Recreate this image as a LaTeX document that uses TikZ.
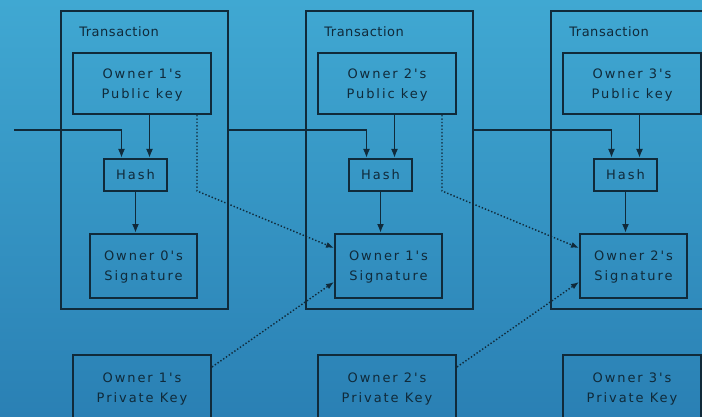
\documentclass[tikz,border=0pt]{standalone}
\usepackage{fontspec}
\usepackage{tikz}
\usetikzlibrary{arrows.meta}
\newfontfamily\boxfont[LetterSpace=15]{DejaVu Sans}
\newfontfamily\labelfont[LetterSpace=4]{DejaVu Sans}
\definecolor{bgtop}{RGB}{64,168,210}
\definecolor{bgbottom}{RGB}{42,128,180}
\definecolor{ink}{RGB}{16,42,58}

\begin{document}
\begin{tikzpicture}[x=1pt,y=-1pt,
	line width=2pt, draw=ink, text=ink,
	txbox/.style={draw,rectangle,minimum width=167pt,minimum height=298pt},
	keybox/.style={draw,rectangle,align=center,minimum width=138pt,minimum height=61pt,
		text depth=0pt,font=\boxfont\fontsize{13}{20}\selectfont},
	hashbox/.style={draw,rectangle,minimum width=63pt,minimum height=32pt,
		font=\boxfont\fontsize{13}{20}\selectfont},
	sigbox/.style={draw,rectangle,align=center,minimum width=107pt,minimum height=64pt,
		text depth=0pt,font=\boxfont\fontsize{13}{20}\selectfont},
	arr/.style={ink,line width=1.8pt,-{Latex[length=9pt,width=7pt]}},
	link/.style={ink,line width=1.4pt,dotted,-{Latex[length=8pt,width=6pt]}}]
	\useasboundingbox (0,0) rectangle (702,417);
	\clip (0,0) rectangle (702,417);
	\shade[top color=bgtop,bottom color=bgbottom] (0,0) rectangle (702,417);

	\foreach \i/\j [evaluate=\i as \dx using (\i-1)*245] in {1/0,2/1,3/2}{
		\node[txbox] (tx\i) at (144.5+\dx,160) {};
		\node[anchor=west,font=\labelfont\fontsize{13}{16}\selectfont] (lbl\i) at (75+\dx,32) {Transaction};
		\node[keybox] (pk\i) at (142+\dx,83.5) {Owner \i's\\Public key};
		\node[hashbox] (hash\i) at (135.5+\dx,175) {Hash};
		\node[sigbox] (sig\i) at (143.5+\dx,266) {Owner \j's\\Signature};
		\node[keybox,minimum height=66pt] (priv\i) at (142+\dx,388) {Owner \i's\\Private Key};
		\draw[arr] ([xshift=14pt]hash\i.north |- pk\i.south) -- ([xshift=14pt]hash\i.north);
		\draw[arr] (hash\i.south) -- (hash\i.south |- sig\i.north);
	}

	% chain of hashes
	\coordinate (in0) at (14,130);
	\draw[arr] (in0) -| ([xshift=-14pt]hash1.north);
	\draw[arr] (tx1.east |- in0) -| ([xshift=-14pt]hash2.north);
	\draw[arr] (tx2.east |- in0) -| ([xshift=-14pt]hash3.north);

	% verify and sign
	\draw[link] ([xshift=-15pt]pk1.south east) -- ([xshift=-15pt,yshift=-76pt]pk1.south east) -- ([yshift=18pt]sig2.west);
	\draw[link] ([xshift=-15pt]pk2.south east) -- ([xshift=-15pt,yshift=-76pt]pk2.south east) -- ([yshift=18pt]sig3.west);
	\draw[link] ([yshift=-13pt]priv1.north east) -- ([yshift=-16pt]sig2.west);
	\draw[link] ([yshift=-13pt]priv2.north east) -- ([yshift=-16pt]sig3.west);
\end{tikzpicture}
\end{document}
